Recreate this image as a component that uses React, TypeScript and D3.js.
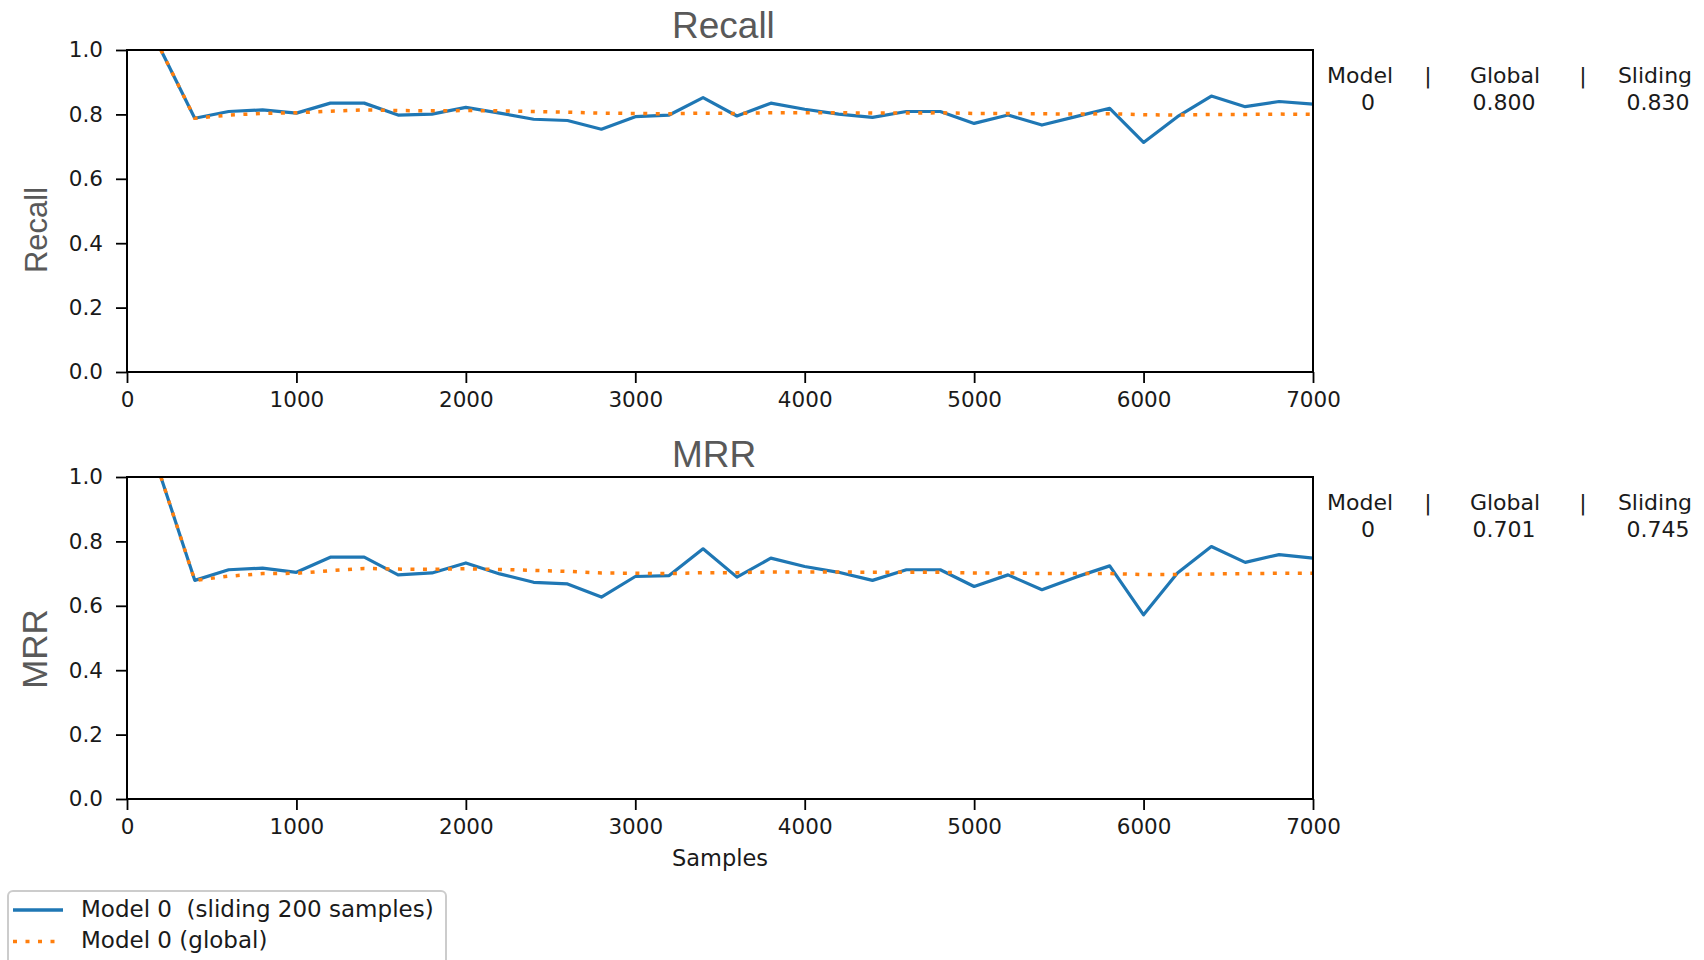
import React, { useEffect, useRef } from 'react'
import * as d3 from 'd3'

// sample counts (x) for every point of the curves
const samples = [200, 400, 600, 800, 1000, 1200, 1400, 1600, 1800, 2000, 2200, 2400, 2600, 2800, 3000, 3200, 3400,
    3600, 3800, 4000, 4200, 4400, 4600, 4800, 5000, 5200, 5400, 5600, 5800, 6000, 6200, 6400, 6600, 6800, 7000]

const recallSliding = [1.0, 0.788, 0.809, 0.814, 0.804, 0.835, 0.835, 0.798, 0.801, 0.822, 0.804, 0.785, 0.781, 0.754,
    0.793, 0.798, 0.852, 0.795, 0.835, 0.816, 0.801, 0.791, 0.809, 0.809, 0.772, 0.798, 0.767, 0.793, 0.819, 0.713,
    0.793, 0.857, 0.824, 0.840, 0.832]
const recallGlobal = [1.0, 0.788, 0.798, 0.803, 0.805, 0.810, 0.814, 0.812, 0.811, 0.812, 0.811, 0.809, 0.807, 0.804,
    0.803, 0.802, 0.804, 0.803, 0.805, 0.805, 0.805, 0.804, 0.804, 0.805, 0.803, 0.803, 0.802, 0.801, 0.802, 0.799,
    0.798, 0.800, 0.800, 0.801, 0.800]

const mrrSliding = [1.0, 0.679, 0.712, 0.717, 0.704, 0.751, 0.751, 0.696, 0.702, 0.733, 0.699, 0.673, 0.668, 0.627,
    0.691, 0.694, 0.777, 0.689, 0.748, 0.722, 0.704, 0.679, 0.712, 0.712, 0.660, 0.696, 0.650, 0.689, 0.724, 0.572,
    0.702, 0.784, 0.735, 0.759, 0.748]
const mrrGlobal = [1.0, 0.679, 0.692, 0.700, 0.701, 0.709, 0.716, 0.714, 0.713, 0.715, 0.713, 0.710, 0.707, 0.702,
    0.701, 0.700, 0.703, 0.703, 0.705, 0.705, 0.705, 0.704, 0.704, 0.704, 0.702, 0.702, 0.700, 0.700, 0.700, 0.697,
    0.697, 0.699, 0.700, 0.701, 0.701]

const xTicks = [0, 1000, 2000, 3000, 4000, 5000, 6000, 7000]
const yTicks = [0, 0.2, 0.4, 0.6, 0.8, 1.0]

const tableHead = ['Model', '|', 'Global', '|', 'Sliding']
const recallRow = ['0', '0.800', '0.830']
const mrrRow = ['0', '0.701', '0.745']

const legendLabels = ['Model 0  (sliding 200 samples)', 'Model 0 (global)']

const BLUE = '#1f77b4'
const ORANGE = '#ff7f0e'
const TITLE_GRAY = '#595959'
const TEXT = '#1a1a1a'
const TICK_FONT = '"DejaVu Sans", sans-serif'
const TITLE_FONT = '"Liberation Sans", Arial, sans-serif'

const App = () => {
    const ref = useRef(null)

    useEffect(() => {
        const svg = d3.select(ref.current)
        svg.selectAll('*').remove()

        const left = 127, right = 1313, plotH = 322

        const x = d3.scaleLinear().domain([0, 7000]).range([left, right])

        const panels = [
            { title: 'Recall', ylabel: 'Recall', sliding: recallSliding, global: recallGlobal, row: recallRow,
                top: 50, titleDy: -12, labelSize: 31, labelX: 47, labelY: 180 },
            { title: 'MRR', ylabel: 'MRR', sliding: mrrSliding, global: mrrGlobal, row: mrrRow,
                top: 477, titleDy: -10, labelSize: 35, labelX: 47, labelY: 172 },
        ]

        panels.forEach(p => {
            const y = d3.scaleLinear().domain([0, 1]).range([p.top + plotH, p.top])
            const g = svg.append('g')

            const line = d3.line()
                .x((d, i) => x(samples[i]))
                .y(d => y(d))

            g.append('path')
                .datum(p.sliding)
                .attr('d', line)
                .attr('fill', 'none')
                .attr('stroke', BLUE)
                .attr('stroke-width', 3.2)
                .attr('stroke-linejoin', 'round')

            g.append('path')
                .datum(p.global)
                .attr('d', line)
                .attr('fill', 'none')
                .attr('stroke', ORANGE)
                .attr('stroke-width', 3.5)
                .attr('stroke-dasharray', '4 8.5')

            // x axis
            const xa = g.append('g')
                .attr('transform', 'translate(0,' + (p.top + plotH) + ')')
                .call(d3.axisBottom(x).tickValues(xTicks).tickFormat(d3.format('d')).tickSize(11).tickPadding(9).tickSizeOuter(0))
            // y axis
            const ya = g.append('g')
                .attr('transform', 'translate(' + left + ',0)')
                .call(d3.axisLeft(y).tickValues(yTicks).tickFormat(d3.format('.1f')).tickSize(11).tickPadding(13).tickSizeOuter(0))

            ;[xa, ya].forEach(a => {
                a.select('.domain').remove()
                a.selectAll('line').attr('stroke', '#000').attr('stroke-width', 1.8)
                a.selectAll('text')
                    .attr('fill', TEXT)
                    .style('font-family', TICK_FONT)
                    .style('font-size', '21.5px')
            })

            // frame
            g.append('rect')
                .attr('x', left)
                .attr('y', p.top)
                .attr('width', right - left)
                .attr('height', plotH)
                .attr('fill', 'none')
                .attr('stroke', '#000')
                .attr('stroke-width', 2)

            g.append('text')
                .attr('x', 672)
                .attr('y', p.top + p.titleDy)
                .attr('fill', TITLE_GRAY)
                .style('font-family', TITLE_FONT)
                .style('font-size', '37px')
                .text(p.title)

            g.append('text')
                .attr('transform', 'translate(' + p.labelX + ',' + (p.top + p.labelY) + ') rotate(-90)')
                .attr('text-anchor', 'middle')
                .attr('fill', TITLE_GRAY)
                .style('font-family', TITLE_FONT)
                .style('font-size', p.labelSize + 'px')
                .text(p.ylabel)

            // side table
            const headX = [1360, 1428, 1505, 1583, 1655]
            tableHead.forEach((t, i) => {
                g.append('text')
                    .attr('x', headX[i])
                    .attr('y', p.top + 33)
                    .attr('text-anchor', 'middle')
                    .attr('fill', TEXT)
                    .style('font-family', TICK_FONT)
                    .style('font-size', '22px')
                    .text(t)
            })
            const rowX = [1368, 1504, 1658]
            p.row.forEach((t, i) => {
                g.append('text')
                    .attr('x', rowX[i])
                    .attr('y', p.top + 60)
                    .attr('text-anchor', 'middle')
                    .attr('fill', TEXT)
                    .style('font-family', TICK_FONT)
                    .style('font-size', '22px')
                    .text(t)
            })
        })

        svg.append('text')
            .attr('x', 720)
            .attr('y', 866)
            .attr('text-anchor', 'middle')
            .attr('fill', TEXT)
            .style('font-family', TICK_FONT)
            .style('font-size', '22.5px')
            .text('Samples')

        // legend
        const lg = svg.append('g')
        lg.append('rect')
            .attr('x', 8)
            .attr('y', 891)
            .attr('width', 438)
            .attr('height', 80)
            .attr('rx', 5)
            .attr('fill', '#fff')
            .attr('stroke', '#cccccc')
            .attr('stroke-width', 2)
        const rows = [
            { y: 910, color: BLUE, dash: null, w: 3.5, x2: 63 },
            { y: 941.5, color: ORANGE, dash: '4 8.5', w: 3.5, x2: 56 },
        ]
        rows.forEach((r, i) => {
            lg.append('line')
                .attr('x1', 13).attr('x2', r.x2)
                .attr('y1', r.y).attr('y2', r.y)
                .attr('stroke', r.color)
                .attr('stroke-width', r.w)
                .attr('stroke-dasharray', r.dash)
            lg.append('text')
                .attr('x', 81)
                .attr('y', r.y + 6.5)
                .attr('fill', TEXT)
                .style('font-family', TICK_FONT)
                .style('font-size', '23px')
                .style('white-space', 'pre')
                .text(legendLabels[i])
        })
    }, [])

    return (
        <svg ref={ref} width={1704} height={960}
            style={{ position: 'absolute', left: 0, top: 0, background: '#fff' }} />
    )
}

export default App
